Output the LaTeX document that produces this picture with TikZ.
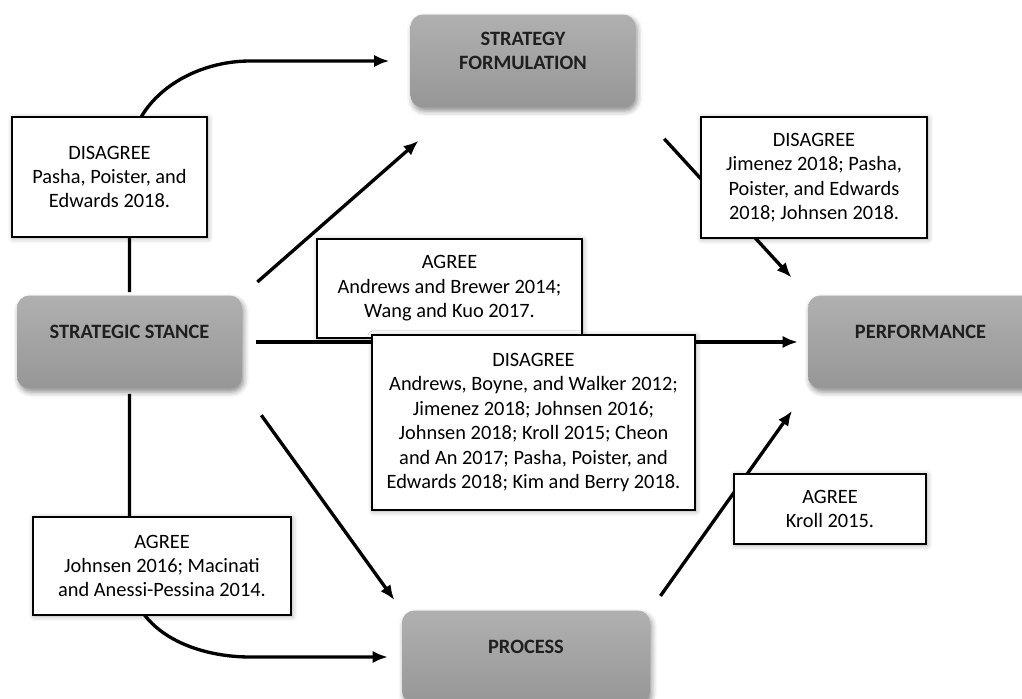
\documentclass[tikz,border=0pt]{standalone}
\usepackage{fontspec}
\setmainfont{Carlito}
\usepackage{tikz}
\usetikzlibrary{arrows.meta,shadows.blur}
\usepackage{xcolor}

\begin{document}
\begin{tikzpicture}[x=0.02cm, y=-0.02cm]
\tikzset{stage/.style = {shape=rectangle, rounded corners=7pt, top color=black!31, bottom color=black!41, minimum width=4.5cm, minimum height=1.86cm, blur shadow={shadow xshift=1pt, shadow yshift=-2pt, shadow blur radius=3pt, shadow opacity=45}}}
\tikzset{stagetext/.style = {font=\fontsize{11.6}{13.8}\selectfont\bfseries, text=black!88, align=center, yshift=0.2cm}}
\tikzset{finding/.style = {shape=rectangle, draw, line width=1pt, fill=white, align=center, font=\fontsize{11.6}{13.9}\selectfont, blur shadow={shadow xshift=0.6pt, shadow yshift=-0.6pt, shadow blur radius=3pt, shadow opacity=35}}}
\tikzset{edge/.style = {line width=1.9pt, > = {Latex[length=8.5pt,width=7pt]}}}

\useasboundingbox (0,0) rectangle (1022,699);

\node[stage, label={[stagetext]center:{STRATEGY\\FORMULATION}}] (formulation) at (523,61) {};
\node[stage, label={[stagetext]center:STRATEGIC STANCE}] (stance) at (129.5,342) {};
\node[stage, label={[stagetext]center:PERFORMANCE}] (performance) at (920.5,342) {};
\node[stage, minimum width=4.96cm, label={[stagetext]center:PROCESS}] (process) at (526,657) {};

%edges
\draw[edge,->,shorten <=0.06cm,shorten >=0.42cm] (stance.north) -- (129.5,160) .. controls (129.5,100) and (190,61) .. (250,61) -- (formulation.west);
\draw[edge,->,shorten <=0.4cm,shorten >=1.0cm] (stance.north east) -- (formulation.215);
\draw[edge,->,shorten <=0.28cm,shorten >=0.2cm] (stance.east) -- (performance.west);
\draw[edge,->,shorten <=0.84cm,shorten >=0.48cm] (formulation.south east) -- (performance.north west);
\draw[edge,->,shorten <=0.65cm,shorten >=0.25cm] (stance.south east) -- (process.north west);
\draw[edge,->,shorten <=0.35cm,shorten >=0.54cm] (process.north east) -- (performance.south west);
\draw[edge,->,shorten <=0.1cm,shorten >=0.28cm] (stance.south) -- (129.5,570) .. controls (129.5,629) and (191,657) .. (250,657) -- (process.west);

%findings
\node[finding, minimum width=3.9cm, minimum height=2.4cm] (disFormulation) at (109.5,177) {DISAGREE\\Pasha, Poister, and\\Edwards 2018.};
\node[finding, minimum width=5.3cm, minimum height=1.98cm] (agrDirect) at (449.5,288.5) {AGREE\\Andrews and Brewer 2014;\\Wang and Kuo 2017.};
\node[finding, minimum width=4.52cm, minimum height=2.42cm] (disFormPerf) at (814,177.5) {DISAGREE\\Jimenez 2018; Pasha,\\Poister, and Edwards\\2018; Johnsen 2018.};
\node[finding, minimum width=6.46cm, minimum height=3.5cm] (disDirect) at (533.5,422.5) {DISAGREE\\Andrews, Boyne, and Walker 2012;\\Jimenez 2018; Johnsen 2016;\\Johnsen 2018; Kroll 2015; Cheon\\and An 2017; Pasha, Poister, and\\Edwards 2018; Kim and Berry 2018.};
\node[finding, minimum width=3.84cm, minimum height=1.4cm] (agrProcPerf) at (830,509) {AGREE\\Kroll 2015.};
\node[finding, minimum width=5.16cm, minimum height=1.96cm] (agrProcess) at (162,566) {AGREE\\Johnsen 2016; Macinati\\and Anessi-Pessina 2014.};

\end{tikzpicture}
\end{document}
